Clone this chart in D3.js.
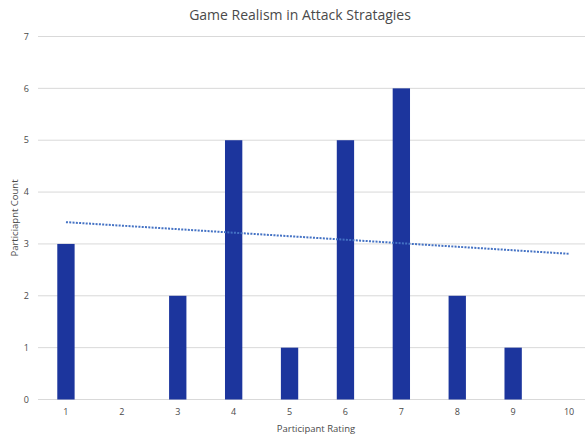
<!DOCTYPE html>
<html>
<head>
<meta charset="utf-8">
<script src="https://cdn.jsdelivr.net/npm/d3@7"></script>
<style>
  body { margin: 0; background: #fff; }
  text { font-family: "Open Sans", "Noto Sans", sans-serif; fill: #4a4a4a; }
</style>
</head>
<body>
<div id="chart"></div>
<script>
// Chart data
const ratings = [1, 2, 3, 4, 5, 6, 7, 8, 9, 10];
const counts = [3, 0, 2, 5, 1, 5, 6, 2, 1, 0];
const yTicks = [0, 1, 2, 3, 4, 5, 6, 7];
// Trend line end values
const trendRatings = [1, 10];
const trendValues = [3.42, 2.81];

const svgWidth = 585;
const svgHeight = 436;

const svg = d3.select("#chart")
	.append("svg")
	.attr("width", svgWidth)
	.attr("height", svgHeight);

// Scales
const x = d3.scaleBand()
	.domain(ratings)
	.range([38, 597])
	.paddingInner(0.69)
	.paddingOuter(0.345);

const y = d3.scaleLinear()
	.domain([0, 7])
	.range([399.5, 36.5]);

// Gridlines
svg.append("g")
	.selectAll("line")
	.data(yTicks)
	.enter()
	.append("line")
	.attr("x1", 38)
	.attr("x2", svgWidth)
	.attr("y1", d => y(d))
	.attr("y2", d => y(d))
	.attr("stroke", "#d9d9d9")
	.attr("stroke-width", 1);

// Y tick labels
svg.append("g")
	.selectAll("text")
	.data(yTicks)
	.enter()
	.append("text")
	.attr("x", 29)
	.attr("y", d => y(d))
	.attr("dy", "0.35em")
	.attr("text-anchor", "end")
	.attr("font-size", 9)
	.text(d => d);

// Bars
svg.append("g")
	.selectAll("rect")
	.data(ratings)
	.enter()
	.append("rect")
	.attr("x", d => x(d))
	.attr("width", x.bandwidth())
	.attr("y", (d, i) => y(counts[i]))
	.attr("height", (d, i) => y(0) - y(counts[i]))
	.attr("fill", "#1c359d");

// X tick labels
svg.append("g")
	.selectAll("text")
	.data(ratings)
	.enter()
	.append("text")
	.attr("x", d => x(d) + x.bandwidth() / 2)
	.attr("y", 415)
	.attr("text-anchor", "middle")
	.attr("font-size", 9)
	.text(d => d);

// Trend line (dotted)
const line = d3.line()
	.x(d => x(d[0]) + x.bandwidth() / 2)
	.y(d => y(d[1]));

svg.append("path")
	.datum(trendRatings.map((r, i) => [r, trendValues[i]]))
	.attr("d", line)
	.attr("fill", "none")
	.attr("stroke", "#4472c4")
	.attr("stroke-width", 2)
	.attr("stroke-dasharray", "2,1.3");

// Title
svg.append("text")
	.attr("x", 300)
	.attr("y", 20)
	.attr("text-anchor", "middle")
	.attr("font-size", 14)
	.text("Game Realism in Attack Stratagies");

// Axis titles
svg.append("text")
	.attr("x", 316)
	.attr("y", 432)
	.attr("text-anchor", "middle")
	.attr("font-size", 9.5)
	.text("Participant Rating");

svg.append("text")
	.attr("transform", `translate(18, 218) rotate(-90)`)
	.attr("text-anchor", "middle")
	.attr("font-size", 9.5)
	.text("Particiapnt Count");
</script>
</body>
</html>
